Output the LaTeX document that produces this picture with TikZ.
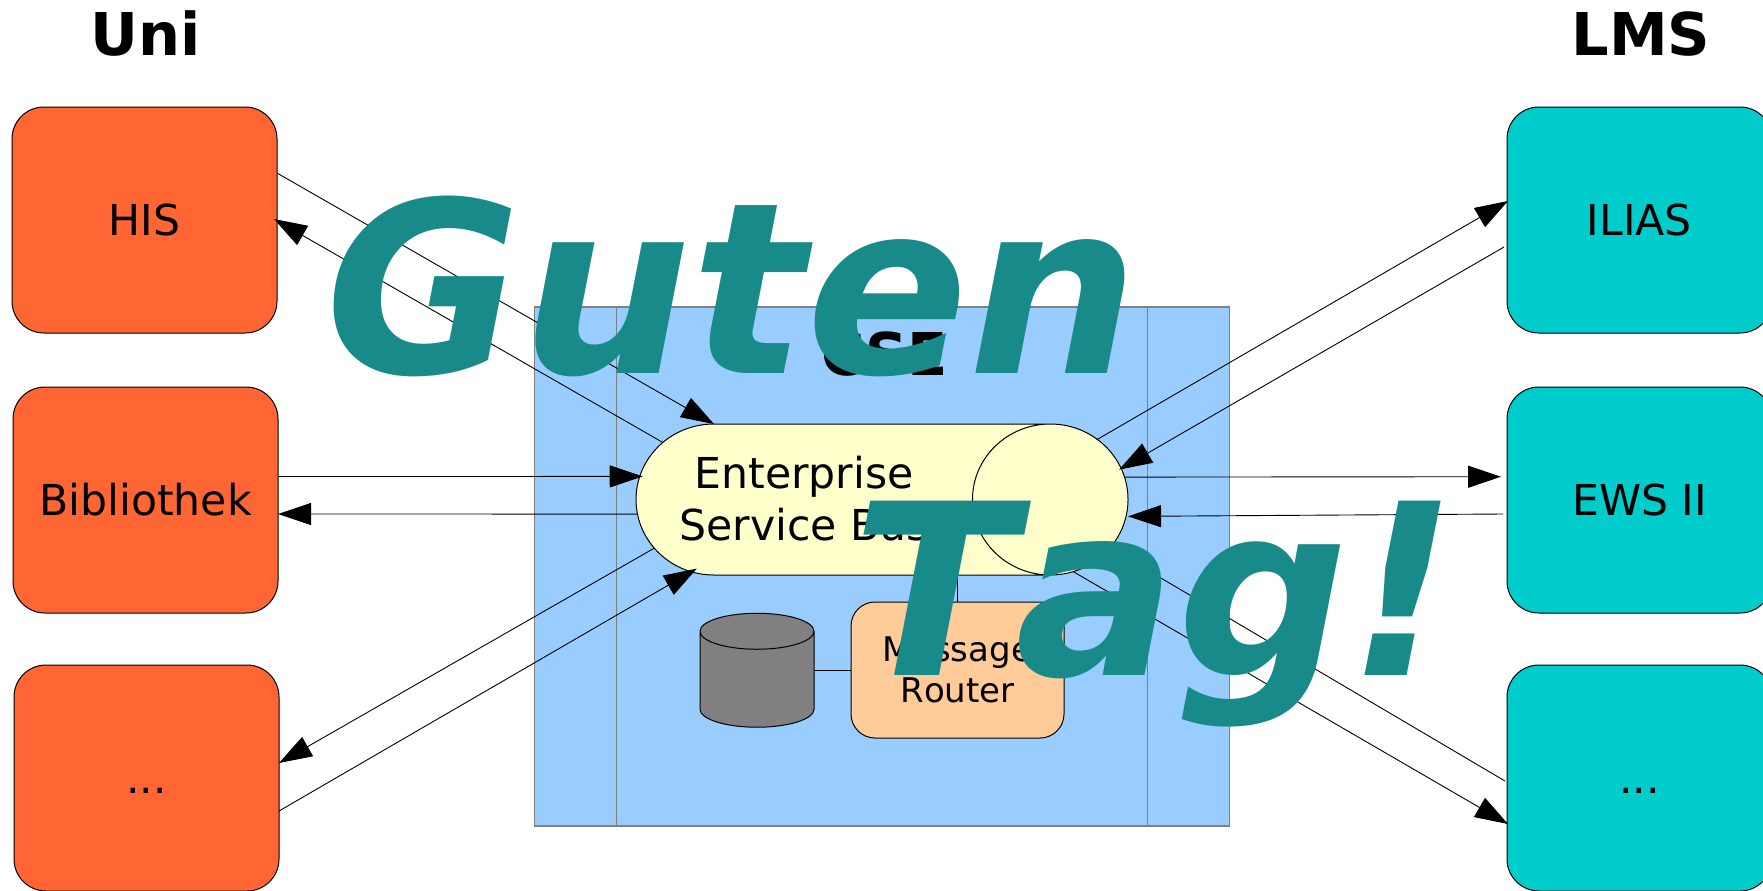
\documentclass[tikz,border=0pt]{standalone}
\usepackage{fontspec}
\setmainfont[Kerning=Off]{DejaVu Sans}
\usetikzlibrary{arrows.meta,shapes.geometric}
\definecolor{unicol}{HTML}{FF6633}
\definecolor{lmscol}{HTML}{00CCCC}
\definecolor{esbcol}{HTML}{FFFFCC}
\definecolor{routercol}{HTML}{FFCC99}
\definecolor{csecol}{HTML}{99CCFF}
\definecolor{grusscol}{HTML}{198A8A}
\tikzset{
  basebox/.style={draw,line width=0.5pt,rounded corners=16pt,inner sep=0pt,outer sep=0pt,
    minimum width=132.5pt,minimum height=113pt,text height=15.5pt,text depth=0pt,
    font=\fontsize{21.3}{26}\selectfont},
  unibox/.style={basebox,fill=unicol},
  lmsbox/.style={basebox,fill=lmscol},
  titletext/.style={anchor=base,inner sep=0pt,font=\fontsize{29.5}{34}\selectfont\bfseries},
  grusstext/.style={anchor=base,inner sep=0pt,text=grusscol,font=\fontsize{119.6}{130}\selectfont\bfseries\itshape},
  conn/.style={draw,line width=0.45pt},
  pfeil/.style={conn,-{Triangle[length=16.5pt,width=11pt]}},
  trenner/.style={draw=gray,line width=0.6pt}
}
\begin{document}
\begin{tikzpicture}[x=0.5pt,y=-0.5pt]
\useasboundingbox (0,0) rectangle (1763,890);
\node[draw=gray,fill=csecol,line width=0.6pt,inner sep=0pt,outer sep=0pt,minimum width=347.25pt,minimum height=259.5pt] (cse) at (882,566.5) {};
\path[trenner] ([xshift=40.9pt]cse.south west) -- ([xshift=40.9pt]cse.north west);
\path[trenner] ([xshift=-40.75pt]cse.south east) -- ([xshift=-40.75pt]cse.north east);
\node[titletext] (cselabel) at (885,375) {CSE};
\node[titletext] (titleuni) at (146,55) {Uni};
\node[titletext] (titlelms) at (1641,55) {LMS};
\node[unibox] (his) at (144.5,220) {HIS};
\node[unibox] (bib) at (145.5,500) {Bibliothek};
\node[unibox] (unidots) at (146.5,778) {...};
\node[lmsbox] (ilias) at (1639.5,220) {ILIAS};
\node[lmsbox] (ews) at (1639.5,500) {EWS II};
\node[lmsbox] (lmsdots) at (1639.5,778) {...};
\node[draw,fill=esbcol,shape=cylinder,shape aspect=1.03,cylinder uses custom fill,
  cylinder body fill=esbcol,cylinder end fill=esbcol,line width=0.5pt,inner xsep=0pt,inner ysep=37.75pt,outer sep=0pt,
  minimum width=75.5pt,minimum height=246pt] (esb) at (804,499.5) {};
\node[align=center,inner sep=0pt,font=\fontsize{21.3}{26}\selectfont] (esbtext) at (804,499) {Enterprise\\Service Bus};
\node[draw,fill=routercol,rounded corners=12pt,line width=0.5pt,inner sep=0pt,outer sep=0pt,
  minimum width=106.5pt,minimum height=68pt,align=center,font=\fontsize{17}{20.5}\selectfont] (router) at (957.5,670) {Message\\Router};
\node[draw,shape=cylinder,shape border rotate=90,shape aspect=0.316,cylinder uses custom fill,
  cylinder body fill=gray,cylinder end fill=gray,line width=0.5pt,inner xsep=28.5pt,inner ysep=0pt,outer sep=0pt,
  minimum width=57pt,minimum height=57pt] (db) at (757,688.5) {};
\path[conn] (router.west -| db.east) -- (router.west);
\path[conn] (router.north) -- (router.north |- esb.south);
\path[pfeil] ([yshift=23.5pt]his.east) -- (esb.140);
\path[pfeil] (esb.158.2) -- ([xshift=-1.5pt,yshift=0.5pt]his.east);
\path[pfeil] ([yshift=11.75pt]bib.east) -- ([xshift=1.5pt]esb.172.5);
\path[pfeil] (esb.185.3) -- ([yshift=-7pt]bib.east);
\path[pfeil] (esb.198.15) -- ([yshift=7.5pt]unidots.east);
\path[pfeil] ([yshift=-16.5pt]unidots.east) -- ([xshift=2.25pt,yshift=1.7pt]esb.213.3);
\path[pfeil] ([xshift=-2pt,yshift=1pt]esb.11.5) -- ([xshift=0.5pt,yshift=9.5pt]ilias.west);
\path[pfeil] ([xshift=-1.5pt,yshift=-13.5pt]ilias.west) -- ([xshift=-1.7pt,yshift=1pt]esb.5.77);
\path[pfeil] (esb.4.06) -- ([xshift=-3pt,yshift=11.65pt]ews.west);
\path[pfeil] ([xshift=-2pt,yshift=-7pt]ews.west) -- ([xshift=1pt]esb.-3.4);
\path[pfeil] ([xshift=-1pt,yshift=-1.5pt]lmsdots.west) -- (esb.-9.65);
\path[pfeil] (esb.-15.15) -- ([xshift=0.5pt,yshift=-23pt]lmsdots.west);
\node[grusstext] (guten) at (732,373) {Guten};
\node[grusstext] (tag) at (1155,675) {Tag!};
\end{tikzpicture}
\end{document}
